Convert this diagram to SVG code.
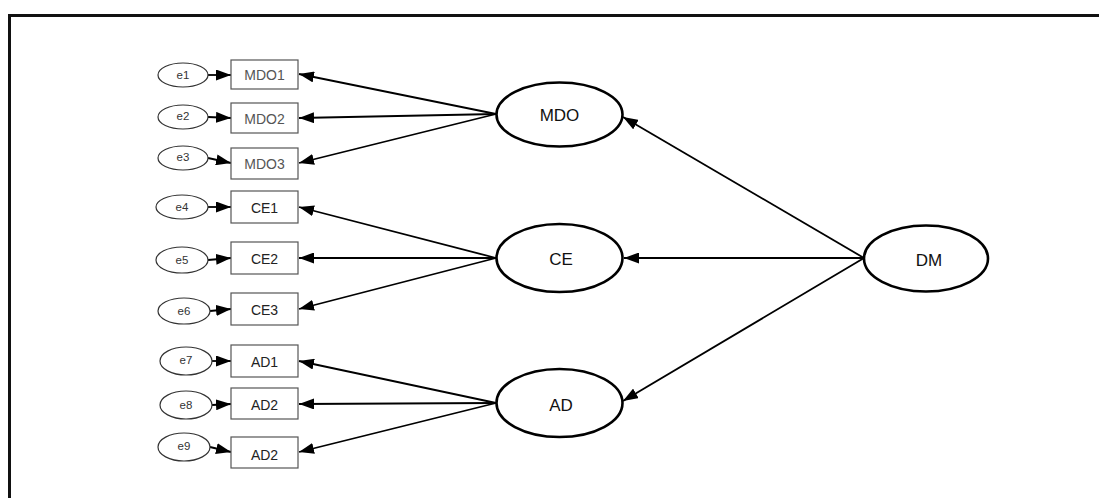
<svg xmlns="http://www.w3.org/2000/svg" width="1099" height="498" viewBox="0 0 1099 498">
<defs>
<marker id="ah" viewBox="0 0 15 11" refX="15" refY="5.5" markerWidth="15" markerHeight="11" markerUnits="userSpaceOnUse" orient="auto">
<path d="M0,0 L15,5.5 L0,11 Z" fill="#000"/>
</marker>
<style>
.frame{fill:none;stroke:#111;stroke-width:3}
.err{fill:#fff;stroke:#333;stroke-width:1.2}
.box{fill:#fff;stroke:#555;stroke-width:1.2}
.lat{fill:#fff;stroke:#000;stroke-width:2.6}
.et{font-family:"Liberation Sans",Arial,sans-serif;font-size:11.5px;fill:#333;text-anchor:middle;dominant-baseline:central}
.bt{font-family:"Liberation Sans",Arial,sans-serif;font-size:14px;fill:#555;text-anchor:middle;dominant-baseline:central}
.bt2{font-family:"Liberation Sans",Arial,sans-serif;font-size:14px;fill:#222;text-anchor:middle;dominant-baseline:central}
.lt{font-family:"Liberation Sans",Arial,sans-serif;font-size:17px;fill:#111;text-anchor:middle;dominant-baseline:central}
.c{stroke:#000;stroke-width:1.8;fill:none;marker-end:url(#ah)}
</style>
</defs>
<rect width="1099" height="498" fill="#fff"/>
<path class="frame" d="M9.5,498 V15.5 H1099"/>

<g id="connectors">
<line class="c" x1="208" y1="75" x2="231" y2="75"/>
<line class="c" x1="208" y1="117" x2="231" y2="118"/>
<line class="c" x1="208" y1="158" x2="231" y2="163"/>
<line class="c" x1="208" y1="207" x2="231" y2="207"/>
<line class="c" x1="208" y1="260" x2="231" y2="258"/>
<line class="c" x1="210" y1="311" x2="231" y2="309"/>
<line class="c" x1="212" y1="361" x2="231" y2="361"/>
<line class="c" x1="212" y1="405" x2="231" y2="404"/>
<line class="c" x1="210" y1="447" x2="231" y2="452"/>

<line class="c" x1="496" y1="114" x2="299" y2="74"/>
<line class="c" x1="496" y1="114" x2="299" y2="118"/>
<line class="c" x1="496" y1="114" x2="299" y2="163"/>
<line class="c" x1="496" y1="258" x2="299" y2="207"/>
<line class="c" x1="496" y1="258" x2="299" y2="258"/>
<line class="c" x1="496" y1="258" x2="299" y2="309"/>
<line class="c" x1="496" y1="403" x2="299" y2="361"/>
<line class="c" x1="496" y1="403" x2="299" y2="404"/>
<line class="c" x1="496" y1="403" x2="299" y2="452"/>

<line class="c" x1="864" y1="258" x2="623" y2="117"/>
<line class="c" x1="864" y1="258" x2="624" y2="258"/>
<line class="c" x1="864" y1="258" x2="623" y2="401"/>
</g>

<g id="e1"><ellipse class="err" cx="183" cy="75" rx="25" ry="12"/><text class="et" x="183" y="75">e1</text></g>
<g id="e2"><ellipse class="err" cx="183" cy="117" rx="25" ry="12"/><text class="et" x="183" y="116">e2</text></g>
<g id="e3"><ellipse class="err" cx="183" cy="158" rx="25" ry="12"/><text class="et" x="183" y="157">e3</text></g>
<g id="e4"><ellipse class="err" cx="182" cy="207" rx="26" ry="12"/><text class="et" x="182" y="207">e4</text></g>
<g id="e5"><ellipse class="err" cx="182" cy="260" rx="26" ry="13"/><text class="et" x="182" y="260">e5</text></g>
<g id="e6"><ellipse class="err" cx="184" cy="311" rx="26" ry="13"/><text class="et" x="184" y="311">e6</text></g>
<g id="e7"><ellipse class="err" cx="186" cy="361" rx="26" ry="14"/><text class="et" x="186" y="360">e7</text></g>
<g id="e8"><ellipse class="err" cx="186" cy="405" rx="26" ry="14"/><text class="et" x="186" y="405">e8</text></g>
<g id="e9"><ellipse class="err" cx="184" cy="447" rx="26" ry="14"/><text class="et" x="184" y="446">e9</text></g>

<g id="MDO1"><rect class="box" x="231" y="60" width="67" height="29"/><text class="bt" x="264.5" y="75">MDO1</text></g>
<g id="MDO2"><rect class="box" x="231" y="103" width="67" height="30"/><text class="bt" x="264.5" y="119">MDO2</text></g>
<g id="MDO3"><rect class="box" x="231" y="148" width="67" height="31"/><text class="bt" x="264.5" y="164">MDO3</text></g>
<g id="CE1"><rect class="box" x="231" y="191" width="67" height="32"/><text class="bt2" x="264.5" y="208">CE1</text></g>
<g id="CE2"><rect class="box" x="231" y="242" width="67" height="32"/><text class="bt2" x="264.5" y="259">CE2</text></g>
<g id="CE3"><rect class="box" x="231" y="293" width="67" height="32"/><text class="bt2" x="264.5" y="310">CE3</text></g>
<g id="AD1"><rect class="box" x="231" y="345" width="67" height="32"/><text class="bt2" x="264.5" y="362">AD1</text></g>
<g id="AD2a"><rect class="box" x="231" y="388" width="67" height="31"/><text class="bt2" x="264.5" y="405">AD2</text></g>
<g id="AD2b"><rect class="box" x="231" y="437" width="67" height="31"/><text class="bt2" x="264.5" y="455">AD2</text></g>

<g id="MDO"><ellipse class="lat" cx="559.5" cy="114.5" rx="63" ry="32"/><text class="lt" x="559.5" y="115">MDO</text></g>
<g id="CE"><ellipse class="lat" cx="559.5" cy="258" rx="63" ry="34"/><text class="lt" x="561" y="259">CE</text></g>
<g id="AD"><ellipse class="lat" cx="559.5" cy="403" rx="63" ry="34"/><text class="lt" x="561" y="405">AD</text></g>
<g id="DM"><ellipse class="lat" cx="926" cy="258.5" rx="62" ry="33"/><text class="lt" x="929" y="260">DM</text></g>
</svg>
